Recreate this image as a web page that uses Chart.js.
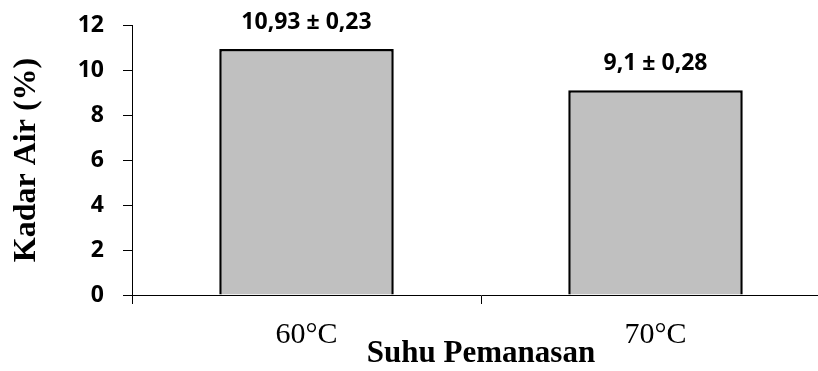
<!DOCTYPE html>
<html>
<head>
<meta charset="utf-8">
<script src="https://cdn.jsdelivr.net/npm/chart.js@4/dist/chart.umd.min.js"></script>
<style>
  html, body { margin: 0; padding: 0; background: #fff; overflow: hidden; }
  #wrap { width: 840px; height: 371px; }
</style>
</head>
<body>
<div id="wrap"><canvas id="c" width="840" height="371"></canvas></div>
<script>
const categories = ["60°C", "70°C"];
const kadarAir = [10.93, 9.1];
const barLabels = ["10,93 ± 0,23", "9,1 ± 0,28"];
const yTicks = [0, 2, 4, 6, 8, 10, 12];

const valueLabels = {
  id: 'valueLabels',
  afterDatasetsDraw(chart) {
    const ctx = chart.ctx;
    const meta = chart.getDatasetMeta(0);
    ctx.save();
    ctx.font = 'bold 23px "Open Sans"';
    ctx.fillStyle = '#000';
    ctx.textAlign = 'center';
    ctx.textBaseline = 'middle';
    meta.data.forEach((bar, i) => {
      ctx.fillText(barLabels[i], bar.x, bar.y - 27);
    });
    ctx.restore();
  }
};

new Chart(document.getElementById('c'), {
  type: 'bar',
  data: {
    labels: categories,
    datasets: [{
      data: kadarAir,
      backgroundColor: '#c0c0c0',
      borderColor: '#000',
      borderWidth: 2.5,
      barPercentage: 0.5,
      categoryPercentage: 1.0
    }]
  },
  options: {
    responsive: false,
    animation: false,
    devicePixelRatio: 1,
    layout: { padding: { top: 25, right: 10, bottom: 0, left: 0 } },
    plugins: { legend: { display: false }, tooltip: { enabled: false } },
    scales: {
      x: {
        offset: true,
        grid: { display: true, offset: true, drawOnChartArea: false, drawTicks: true, tickLength: 9, color: '#000', lineWidth: 1 },
        border: { display: true, color: '#000', width: 1 },
        ticks: { color: '#000', padding: 13, font: { family: 'Liberation Serif', size: 30 } },
        title: { display: true, text: 'Suhu Pemanasan', color: '#000', font: { family: 'Liberation Serif', size: 31, weight: 'bold', lineHeight: 1.1 }, padding: { top: 0, bottom: 0 } },
        afterFit(scale) { scale.height = 76; scale.paddingLeft = 0; scale.paddingRight = 0; }
      },
      y: {
        min: 0, max: 12,
        afterBuildTicks(scale) { scale.ticks = yTicks.map(v => ({ value: v })); },
        grid: { display: true, drawOnChartArea: false, drawTicks: true, tickLength: 9, color: '#000', lineWidth: 1 },
        border: { display: true, color: '#000', width: 1 },
        ticks: { color: '#000', padding: 19, font: { family: 'Open Sans', size: 23, weight: 'bold' } },
        title: { display: true, text: 'Kadar Air (%)', color: '#000', font: { family: 'Liberation Serif', size: 32, weight: 'bold', lineHeight: 1.2 }, padding: { top: 8, bottom: 0 } },
        afterFit(scale) { scale.width = 132; scale.paddingTop = 0; scale.paddingBottom = 0; }
      }
    }
  },
  plugins: [valueLabels]
});
</script>
</body>
</html>
